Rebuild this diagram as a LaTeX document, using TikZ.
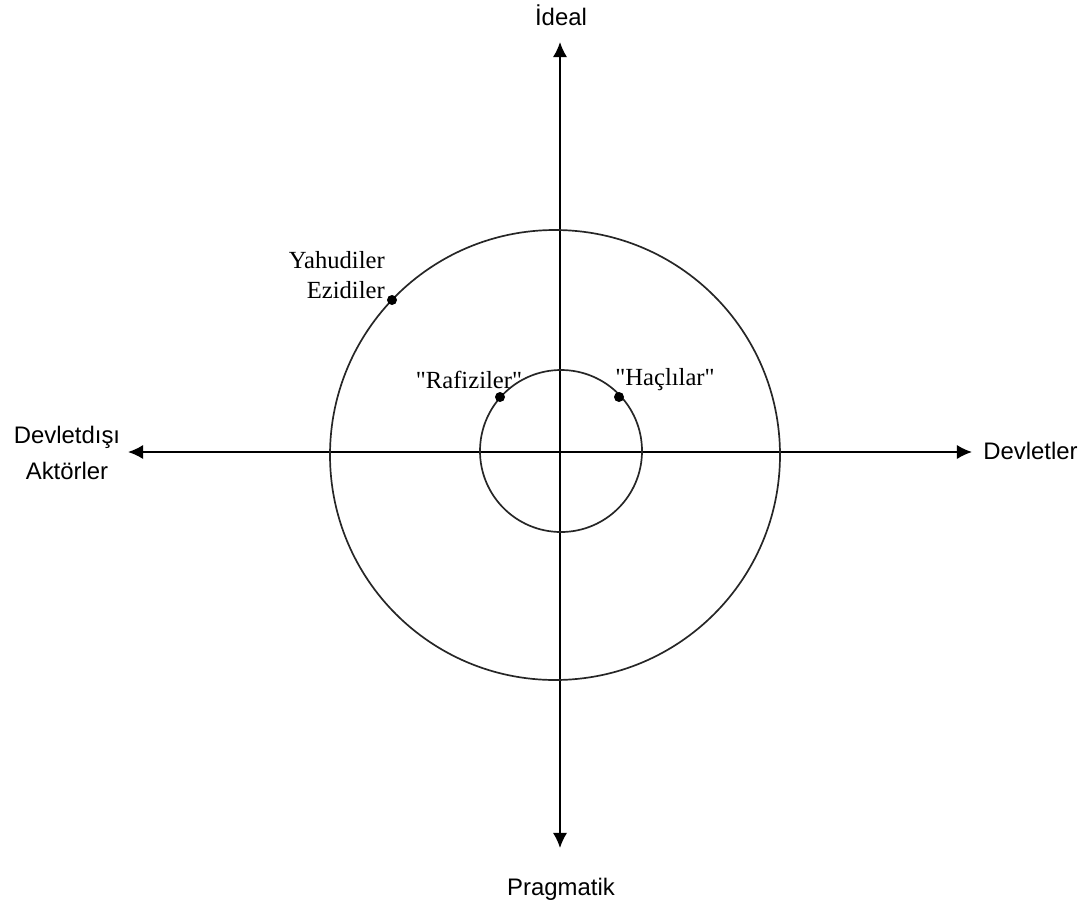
\documentclass[tikz,border=0pt]{standalone}
\usepackage{fontspec}
\setmainfont{Liberation Serif}
\newfontfamily\axisfont{Liberation Sans}
\usetikzlibrary{arrows.meta}
\begin{document}
\begin{tikzpicture}[x=0.025cm, y=-0.025cm,
	axis/.style={line width=1.3pt, {Latex[length=0.38cm,width=0.36cm]}-{Latex[length=0.38cm,width=0.36cm]}},
	ring/.style={line width=1.2pt, black!85},
	pole/.style={font=\axisfont\fontsize{17}{26}\selectfont, inner sep=0pt, align=center},
	actor/.style={font=\fontsize{17.5}{21}\selectfont, inner sep=0pt},
	dot/.style={circle, fill=black, inner sep=0pt, minimum size=0.25cm}]
		\useasboundingbox (0,0) rectangle (1091,908);
		% axes
		\coordinate (top) at (560,42);
		\coordinate (bot) at (560,848);
		\coordinate (lft) at (128,452);
		\coordinate (rgt) at (972,452);
		\draw[axis] (bot) -- (top);
		\draw[axis] (lft) -- (rgt);
		% rings
		\draw[ring] (555,455) circle (225);
		\draw[ring] (561,451) circle (81);
		% poles
		\node[pole] (ideal) at (561,15) {İdeal};
		\node[pole] (prag) at (561,889) {Pragmatik};
		\node[pole, anchor=west] (devlet) at (983,451) {Devletler};
		\node[pole] (dd) at (67,453) {Devletdışı\\Aktörler};
		% actors
		\node[dot] (d1) at (392,300) {};
		\node[dot] (d2) at (500,397) {};
		\node[dot] (d3) at (619,397) {};
		\node[actor, align=right, anchor=east] (yah) at (385,275) {Yahudiler\\Ezidiler};
		\node[actor] (raf) at (469,380) {\textquotedbl Rafiziler\textquotedbl};
		\node[actor] (hac) at (665,380) {\textquotedbl Haçlılar\textquotedbl};
	\end{tikzpicture}
\end{document}
